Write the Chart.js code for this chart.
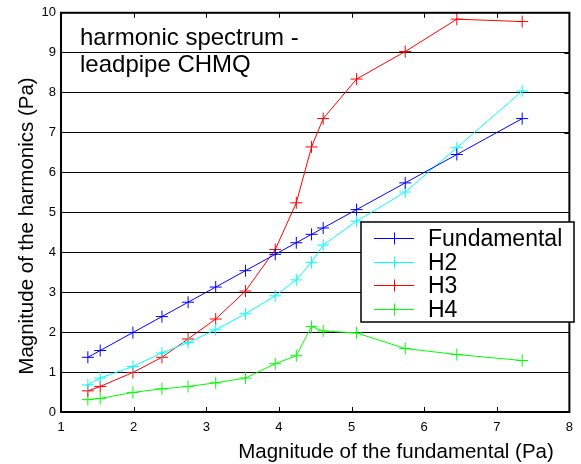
<!DOCTYPE html>
<html>
<head>
<meta charset="utf-8">
<script src="https://cdn.jsdelivr.net/npm/chart.js@4/dist/chart.umd.min.js"></script>
<style>
html,body{margin:0;padding:0;background:#fff;}
#wrap{width:581px;height:464px;position:relative;}
</style>
</head>
<body>
<div id="wrap"><canvas id="c" width="581" height="464"></canvas></div>
<script>
const fundamentalX = [1.37, 1.54, 1.99, 2.39, 2.75, 3.13, 3.54, 3.95, 4.24, 4.45, 4.61, 5.07, 5.74, 6.45, 7.35];
const fundamental = [1.37, 1.54, 1.99, 2.39, 2.75, 3.13, 3.54, 3.95, 4.24, 4.45, 4.61, 5.07, 5.74, 6.45, 7.35];
const h2 = [0.68, 0.85, 1.14, 1.48, 1.74, 2.06, 2.46, 2.91, 3.31, 3.75, 4.18, 4.78, 5.51, 6.62, 8.04];
const h3 = [0.53, 0.64, 0.99, 1.37, 1.83, 2.33, 3.03, 4.07, 5.24, 6.64, 7.35, 8.34, 9.03, 9.84, 9.78];
const h4 = [0.31, 0.34, 0.49, 0.58, 0.64, 0.73, 0.85, 1.21, 1.41, 2.14, 2.03, 1.98, 1.59, 1.44, 1.29];
const seriesNames = ['Fundamental', 'H2', 'H3', 'H4'];
const seriesColors = ['#0000ff', '#00ffff', '#ff0000', '#00ff00'];
const titleLines = ['harmonic spectrum -', 'leadpipe CHMQ'];
const xTitle = 'Magnitude of the fundamental (Pa)';
const yTitle = 'Magnitude of the harmonics (Pa)';
const FONT = "'Liberation Sans', Arial, Helvetica, sans-serif";

const allY = [fundamental, h2, h3, h4];
const datasets = allY.map((arr, k) => ({
  label: seriesNames[k],
  data: fundamentalX.map((x, i) => ({x: x, y: arr[i]})),
  showLine: true,
  borderColor: seriesColors[k],
  backgroundColor: seriesColors[k],
  borderWidth: 1,
  pointStyle: 'cross',
  pointRadius: 6,
  pointBorderWidth: 1,
  pointBorderColor: seriesColors[k],
  tension: 0
}));

const decor = {
  id: 'decor',
  afterDatasetsDraw(chart) {
    const ctx = chart.ctx;
    const a = chart.chartArea;
    const xs = chart.scales.x, ys = chart.scales.y;
    ctx.save();
    ctx.strokeStyle = '#000';
    ctx.lineWidth = 1;
    for (let v = 2; v <= 7; v++) {
      const px = Math.round(xs.getPixelForValue(v)) + 0.5;
      ctx.beginPath();
      ctx.moveTo(px, a.top); ctx.lineTo(px, a.top + 5);
      ctx.moveTo(px, a.bottom); ctx.lineTo(px, a.bottom - 5);
      ctx.stroke();
    }
    for (let v = 1; v <= 9; v++) {
      const py = Math.round(ys.getPixelForValue(v)) + 0.5;
      ctx.beginPath();
      ctx.moveTo(a.right, py); ctx.lineTo(a.right - 5, py);
      ctx.stroke();
    }
    ctx.lineWidth = 2;
    ctx.strokeRect(a.left, a.top, a.right - a.left, a.bottom - a.top);
    ctx.fillStyle = '#000';
    ctx.font = '24px ' + FONT;
    ctx.textAlign = 'left';
    ctx.textBaseline = 'alphabetic';
    ctx.fillText(titleLines[0], 80, 45);
    ctx.fillText(titleLines[1], 80, 72);
    ctx.font = '20.5px ' + FONT;
    ctx.textAlign = 'center';
    ctx.fillText(xTitle, 396, 458);
    ctx.save();
    ctx.translate(33, 226);
    ctx.rotate(-Math.PI / 2);
    ctx.fillText(yTitle, 0, 0);
    ctx.restore();
    const lx = 361, ly = 222, lw = 213, lh = 100;
    ctx.fillStyle = '#fff';
    ctx.fillRect(lx, ly, lw, lh);
    ctx.strokeStyle = '#000';
    ctx.lineWidth = 1.5;
    ctx.strokeRect(lx, ly, lw, lh);
    const rows = [238, 262, 285, 309];
    ctx.font = '23px ' + FONT;
    ctx.textAlign = 'left';
    ctx.textBaseline = 'alphabetic';
    for (let k = 0; k < 4; k++) {
      const y = rows[k] + 0.5;
      ctx.strokeStyle = seriesColors[k];
      ctx.lineWidth = 1;
      ctx.beginPath();
      ctx.moveTo(374, y); ctx.lineTo(414, y);
      ctx.moveTo(394.5, y - 6); ctx.lineTo(394.5, y + 6);
      ctx.stroke();
      ctx.fillStyle = '#000';
      ctx.fillText(seriesNames[k], 428, rows[k] + 8.2);
    }
    ctx.restore();
  }
};

new Chart(document.getElementById('c'), {
  type: 'scatter',
  data: {datasets: datasets},
  plugins: [decor],
  options: {
    responsive: false,
    animation: false,
    devicePixelRatio: 1,
    layout: {padding: {left: 0, right: 8, top: 12, bottom: 0}},
    plugins: {legend: {display: false}, tooltip: {enabled: false}, title: {display: false}},
    scales: {
      x: {
        type: 'linear', min: 1, max: 8,
        afterFit(s) { s.height = 52; },
        ticks: {stepSize: 1, color: '#000', font: {size: 13, family: FONT}, padding: 8, maxRotation: 0},
        grid: {display: false, drawTicks: false},
        border: {display: false}
      },
      y: {
        type: 'linear', min: 0, max: 10,
        afterFit(s) { s.width = 61; },
        ticks: {stepSize: 1, color: '#000', font: {size: 13, family: FONT}, padding: 5},
        grid: {display: true, color: '#000', lineWidth: 1, drawTicks: false},
        border: {display: false}
      }
    }
  }
});
</script>
</body>
</html>
